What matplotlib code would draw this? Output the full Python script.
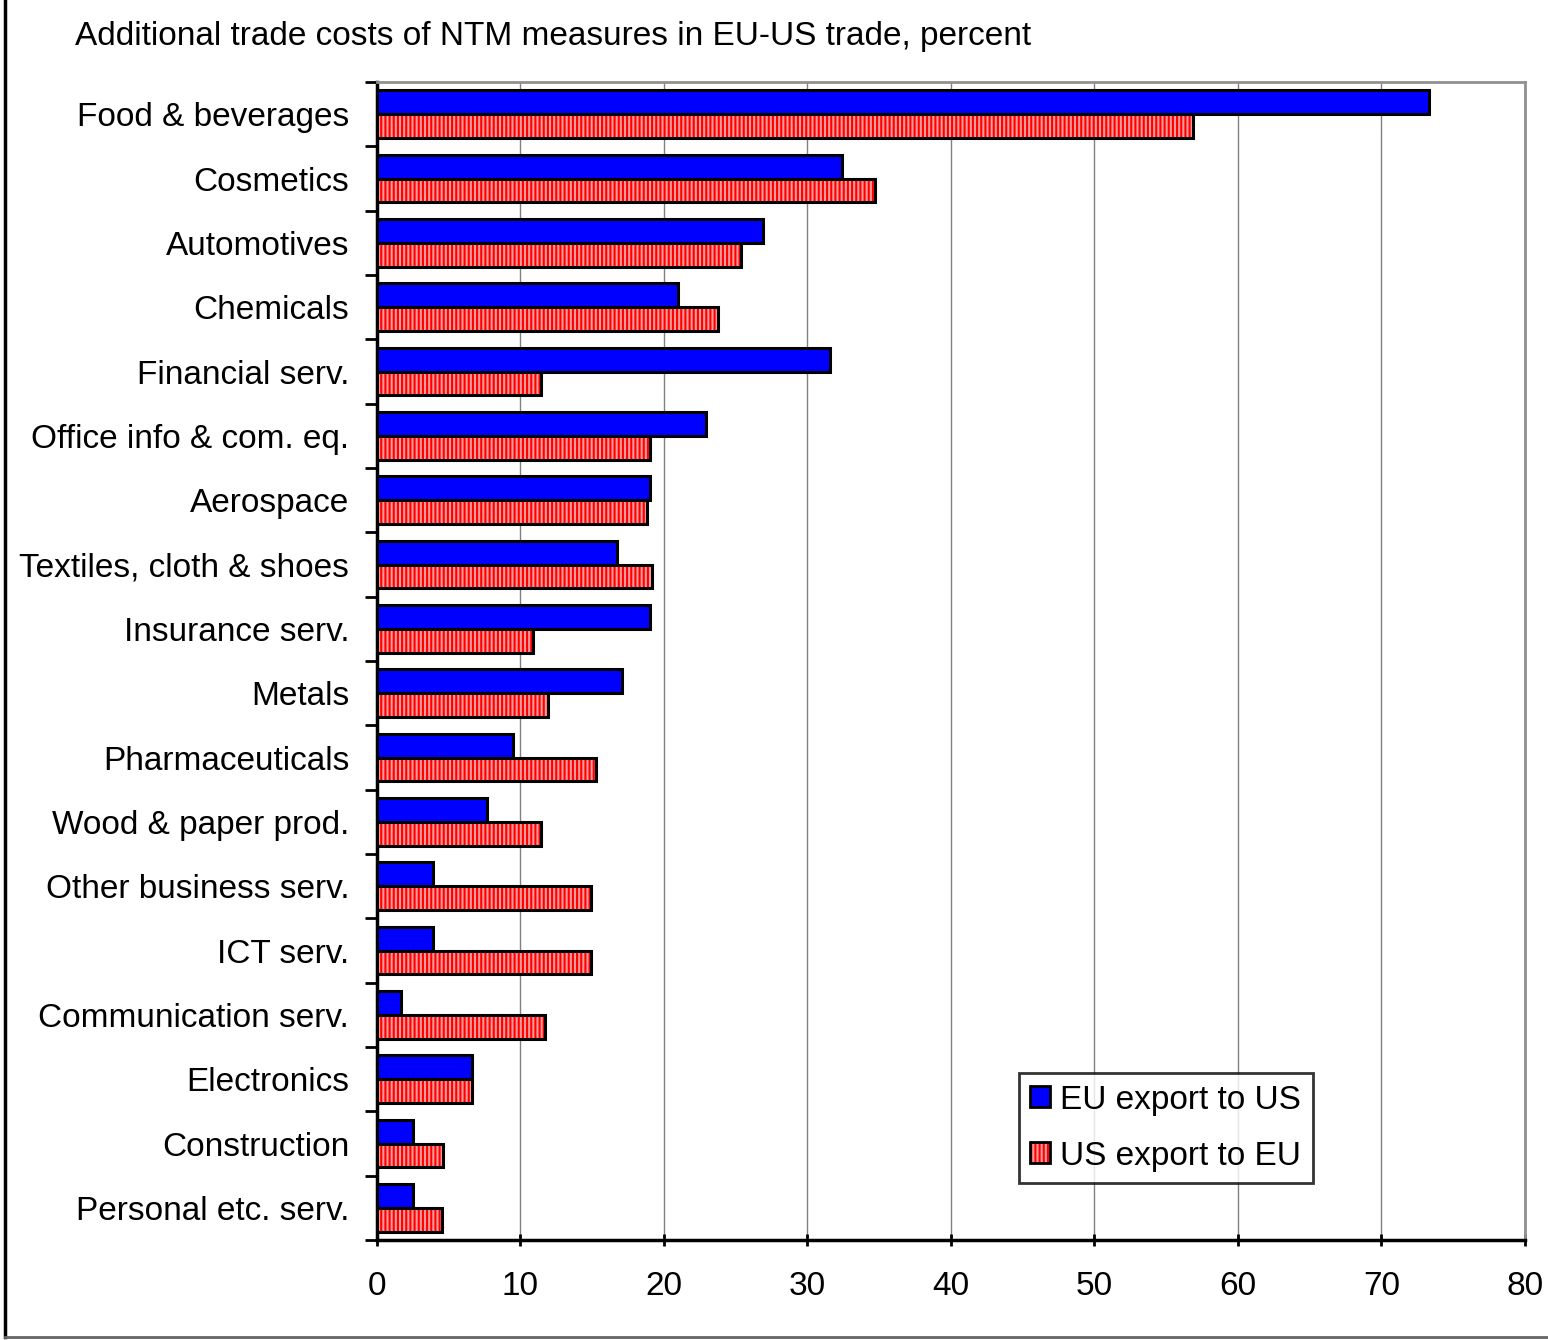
import matplotlib.pyplot as plt
import numpy as np
from matplotlib.patches import Patch
from matplotlib.lines import Line2D

plt.rcParams['font.family'] = ['Liberation Sans', 'DejaVu Sans']
plt.rcParams['hatch.linewidth'] = 1.5

# ── Data ─────────────────────────────────────────────────────────────────────
sectors = ['Food & beverages', 'Cosmetics', 'Automotives', 'Chemicals',
           'Financial serv.', 'Office info & com. eq.', 'Aerospace',
           'Textiles, cloth & shoes', 'Insurance serv.', 'Metals',
           'Pharmaceuticals', 'Wood & paper prod.', 'Other business serv.',
           'ICT serv.', 'Communication serv.', 'Electronics', 'Construction',
           'Personal etc. serv.']
eu_to_us = [73.3, 32.4, 26.9, 21.0, 31.6, 22.9, 19.0, 16.7, 19.0, 17.1,
            9.5, 7.7, 3.9, 3.9, 1.7, 6.6, 2.5, 2.5]
us_to_eu = [56.9, 34.7, 25.4, 23.8, 11.4, 19.0, 18.8, 19.2, 10.9, 11.9,
            15.3, 11.4, 14.9, 14.9, 11.7, 6.6, 4.6, 4.5]
xticks = [0, 10, 20, 30, 40, 50, 60, 70, 80]
title = 'Additional trade costs of NTM measures in EU-US trade, percent'

# ── Figure ────────────────────────────────────────────────────────────────────
fig = plt.figure(figsize=(15.48, 13.4), dpi=100)
ax = fig.add_axes([0.2435, 0.0746, 0.7415, 0.8642])

y = np.arange(len(sectors))
h = 0.37
ax.barh(y - h / 2, eu_to_us, height=h, color='#0000ff', edgecolor='black',
        linewidth=2.2, zorder=3)
# red bars: pink fill with red vertical stripes, black outline on top
ax.barh(y + h / 2, us_to_eu, height=h, color='#ff9a9a', edgecolor='#ff0000',
        hatch='||||', linewidth=0, zorder=3)
ax.barh(y + h / 2, us_to_eu, height=h, color='none', edgecolor='black',
        linewidth=2.2, zorder=4)

ax.set_ylim(len(sectors) - 0.5, -0.5)
ax.set_xlim(0, 80)
ax.set_xticks(xticks)
ax.set_xticklabels([str(t) for t in xticks], fontsize=24)
ax.set_yticks(y)
ax.set_yticklabels(sectors, fontsize=24)
ax.tick_params(axis='y', length=0, pad=20)
ax.set_yticks(np.arange(len(sectors) + 1) - 0.5, minor=True)
ax.tick_params(axis='y', which='minor', length=9, width=2, direction='out')
ax.tick_params(axis='x', length=9, width=2, direction='inout', pad=18)

ax.grid(axis='x', color='#808080', linewidth=1, zorder=0)
for s in ['top', 'right']:
    ax.spines[s].set_color('#909090')
    ax.spines[s].set_linewidth(2)
for s in ['left', 'bottom']:
    ax.spines[s].set_color('black')
    ax.spines[s].set_linewidth(2.5)

h_eu = Patch(facecolor='#0000ff', edgecolor='black', linewidth=2)
h_us = (Patch(facecolor='#ff9a9a', edgecolor='#ff0000', hatch='||||', linewidth=0),
        Patch(facecolor='none', edgecolor='black', linewidth=2))
leg = ax.legend([h_eu, h_us], ['EU export to US', 'US export to EU'],
                loc='lower right', bbox_to_anchor=(0.8153, 0.049), fontsize=24,
                frameon=True, fancybox=False, edgecolor='black',
                handlelength=0.6, handleheight=0.6, handletextpad=0.3,
                borderpad=0.35, labelspacing=0.75, borderaxespad=0)
leg.get_frame().set_linewidth(2)

fig.text(75 / 1548, 1 - 36 / 1340, title, fontsize=24, va='center', ha='left')

# frame lines at the left and bottom of the picture
fig.add_artist(Line2D([5 / 1548, 5 / 1548], [0.002, 1], transform=fig.transFigure,
                      color='black', linewidth=2.5))
fig.add_artist(Line2D([5 / 1548, 1], [0.002, 0.002], transform=fig.transFigure,
                      color='#666666', linewidth=2))

fig.savefig('out.png', dpi=100)
